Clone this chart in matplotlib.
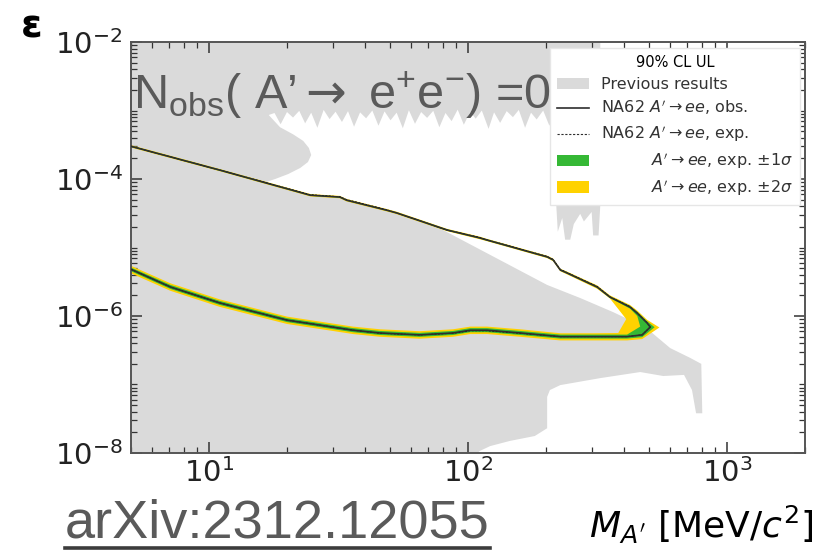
import matplotlib
matplotlib.use('Agg')
import matplotlib.pyplot as plt
from matplotlib.path import Path
from matplotlib.patches import PathPatch, Patch
from matplotlib.lines import Line2D
from matplotlib.ticker import LogLocator, NullFormatter

plt.rcParams['mathtext.rm'] = 'Liberation Sans'
plt.rcParams['mathtext.it'] = 'Liberation Sans:italic'
plt.rcParams['mathtext.bf'] = 'Liberation Sans:bold'
plt.rcParams['mathtext.sf'] = 'DejaVu Sans'
plt.rcParams['mathtext.fallback'] = 'stixsans'

# ---- previous results (excluded region), MeV / epsilon ----
edge_mass = [217, 206, 195, 184, 175, 166, 157, 149, 141, 133, 126, 120, 113, 107, 102, 96.3,
             91.2, 86.4, 81.8, 77.5, 73.4, 69.5, 65.9, 62.4, 59.1, 56.0, 53.0, 50.2, 47.6, 45.1,
             42.7, 40.4, 38.3, 36.3, 34.4, 32.6, 30.8, 29.2, 27.7, 26.2, 24.8, 23.5, 22.3, 21.1,
             20.0, 18.9, 17.9, 17.0]
edge_eps = [9.6e-4, 6.0e-4, 1.0e-3, 7.4e-4, 9.3e-4, 5.6e-4, 1.02e-3, 8.0e-4, 9.8e-4, 6.6e-4,
            9.4e-4, 5.4e-4, 1.0e-3, 7.6e-4, 9.6e-4, 6.2e-4, 1.03e-3, 7.0e-4, 9.2e-4, 5.7e-4,
            9.9e-4, 7.8e-4, 9.5e-4, 6.4e-4, 1.01e-3, 5.5e-4, 9.3e-4, 7.2e-4, 9.7e-4, 6.0e-4,
            1.0e-3, 7.7e-4, 9.4e-4, 5.8e-4, 9.8e-4, 6.8e-4, 9.6e-4, 7.5e-4, 1.02e-3, 5.6e-4,
            9.3e-4, 6.5e-4, 9.9e-4, 7.9e-4, 9.5e-4, 6.3e-4, 9.2e-4, 8.6e-4]
prev_mass = ([4.5, 324, 324,
              319, 304, 300, 280, 271, 256, 248, 237, 231, 222, 219]
             + edge_mass
             + [18.8, 21.1, 23.1, 24.3, 24.8, 24.1, 22.5, 20.2, 18.0, 16.4,
                24.6, 32, 34, 48.6, 53, 75,
                202, 271, 363, 422, 483, 514,
                603, 721, 795, 802, 759, 732, 682, 567, 462, 324, 227, 207, 202,
                202, 181, 145, 121.6, 111, 107, 107, 4.5])
prev_eps = ([2e-2, 2e-2, 4.2e-5,
             1.5e-5, 1.5e-5, 3.3e-5, 2.4e-5, 3.1e-5, 2.2e-5, 1.3e-5, 1.3e-5, 2.7e-5, 1.7e-5, 4.2e-5]
            + edge_eps
            + [5.7e-4, 4.5e-4, 3.6e-4, 2.84e-4, 2.24e-4, 1.77e-4, 1.45e-4, 1.18e-4, 1.0e-4, 8.9e-5,
               5.8e-5, 5.45e-5, 4.9e-5, 3.5e-5, 3.2e-5, 2.05e-5,
               2.84e-6, 1.83e-6, 1.14e-6, 8.7e-7, 6.7e-7, 5.65e-7,
               3.4e-7, 2.44e-7, 2.0e-7, 3.8e-8, 3.8e-8, 8.3e-8, 1.38e-7, 1.33e-7, 1.52e-7, 1.24e-7,
               9.8e-8, 8.3e-8, 6.6e-8,
               2.3e-8, 1.77e-8, 1.5e-8, 1.26e-8, 1.07e-8, 9.5e-9, 5e-9, 5e-9])

# ---- NA62 contour: upper branch ----
up_mass = [5, 11, 24.6, 32, 34, 48.6, 53, 83, 111, 118, 202, 213, 227, 241, 315, 353, 422, 450, 491]
obs_up = [3.0e-4, 1.35e-4, 5.8e-5, 5.45e-5, 4.9e-5, 3.5e-5, 3.2e-5, 1.8e-5, 1.38e-5, 1.29e-5,
          7.3e-6, 6.6e-6, 4.7e-6, 4.25e-6, 2.65e-6, 1.89e-6, 1.35e-6, 1.1e-6, 7.9e-7]
exp_up = [3.0e-4, 1.35e-4, 5.9e-5, 5.5e-5, 5.0e-5, 3.55e-5, 3.2e-5, 1.8e-5, 1.4e-5, 1.3e-5,
          7.4e-6, 6.7e-6, 4.8e-6, 4.3e-6, 2.7e-6, 1.9e-6, 1.37e-6, 1.1e-6, 8.0e-7]
up_p2 = [3.12e-4, 1.4e-4, 6.03e-5, 5.67e-5, 5.1e-5, 3.64e-5, 3.33e-5, 1.87e-5, 1.44e-5, 1.34e-5,
         7.6e-6, 6.9e-6, 4.9e-6, 4.45e-6, 2.8e-6, 2.0e-6, 1.45e-6, 1.2e-6, 8.8e-7]
up_p1 = [3.06e-4, 1.38e-4, 5.92e-5, 5.56e-5, 5.0e-5, 3.57e-5, 3.26e-5, 1.84e-5, 1.41e-5, 1.32e-5,
         7.45e-6, 6.75e-6, 4.8e-6, 4.35e-6, 2.72e-6, 1.94e-6, 1.4e-6, 1.15e-6, 8.4e-7]
up_m1 = [2.94e-4, 1.32e-4, 5.68e-5, 5.34e-5, 4.8e-5, 3.43e-5, 3.14e-5, 1.76e-5, 1.35e-5, 1.26e-5,
         7.15e-6, 6.45e-6, 4.6e-6, 4.15e-6, 2.58e-6, 1.83e-6, 1.28e-6, 1.0e-6]
up_m2 = [2.88e-4, 1.3e-4, 5.57e-5, 5.23e-5, 4.7e-5, 3.36e-5, 3.07e-5, 1.73e-5, 1.32e-5, 1.24e-5,
         7.0e-6, 6.3e-6, 4.5e-6, 4.05e-6, 2.5e-6, 1.8e-6]

# ---- NA62 contour: lower branch ----
lo_mass = [5, 7.1, 11, 20, 36, 45.7, 65, 87.5, 102, 118.5, 159, 227, 305, 380, 411, 470]
obs_lo = [4.8e-6, 2.65e-6, 1.55e-6, 8.7e-7, 6.2e-7, 5.65e-7, 5.3e-7, 5.65e-7, 6.2e-7, 6.2e-7,
          5.65e-7, 5.0e-7, 5.0e-7, 5.0e-7, 5.0e-7, 5.3e-7]
exp_lo = [4.8e-6, 2.65e-6, 1.55e-6, 8.7e-7, 6.2e-7, 5.6e-7, 5.3e-7, 5.6e-7, 6.1e-7, 6.1e-7,
          5.6e-7, 5.0e-7, 5.0e-7, 5.0e-7, 5.0e-7, 5.3e-7]
lo_p2 = [4.2e-6, 2.33e-6, 1.36e-6, 7.65e-7, 5.45e-7, 4.97e-7, 4.66e-7, 4.97e-7, 5.45e-7, 5.45e-7,
         4.97e-7, 4.4e-7, 4.4e-7, 4.4e-7, 4.4e-7, 4.6e-7]
lo_p1 = [4.5e-6, 2.48e-6, 1.45e-6, 8.15e-7, 5.8e-7, 5.28e-7, 4.96e-7, 5.28e-7, 5.8e-7, 5.8e-7,
         5.28e-7, 4.68e-7, 4.68e-7, 4.68e-7, 4.68e-7, 4.9e-7]
lo_m1 = [5.1e-6, 2.84e-6, 1.66e-6, 9.3e-7, 6.65e-7, 6.05e-7, 5.67e-7, 6.05e-7, 6.65e-7, 6.65e-7,
         6.05e-7, 5.35e-7, 5.35e-7, 5.35e-7, 5.35e-7]
lo_m2 = [5.4e-6, 3.0e-6, 1.75e-6, 9.8e-7, 7.0e-7, 6.4e-7, 6.0e-7, 6.4e-7, 7.0e-7, 7.0e-7,
         6.4e-7, 5.6e-7, 5.6e-7, 5.65e-7]

# tips of each contour (mass, eps)
tip_obs = (505, 6.9e-7)
tip_p2 = (548, 6.8e-7)
tip_p1 = (525, 6.85e-7)
tip_m1 = (462, 7.0e-7)
tip_m2 = (408, 9.0e-7)


def contour(up_e, tip, lo_e):
    m = up_mass[:len(up_e)] + [tip[0]] + lo_mass[:len(lo_e)][::-1]
    e = list(up_e) + [tip[1]] + list(lo_e)[::-1]
    return list(zip(m, e))


def ring(outer, inner):
    inner = inner[::-1]
    verts = outer + [outer[0]] + inner + [inner[0]]
    codes = ([Path.MOVETO] + [Path.LINETO] * (len(outer) - 1) + [Path.CLOSEPOLY] +
             [Path.MOVETO] + [Path.LINETO] * (len(inner) - 1) + [Path.CLOSEPOLY])
    return Path(verts, codes)


fig = plt.figure(figsize=(8.2, 5.55), dpi=100)
ax = fig.add_axes([0.1598, 0.1838, 0.8220, 0.7405])
ax.set_xscale('log')
ax.set_yscale('log')

gray = '#dadada'
green = '#35b835'
yellow = '#ffd200'

ax.fill(prev_mass, prev_eps, color=gray, lw=0, zorder=1)

out2 = contour(up_p2, tip_p2, lo_p2)
in2 = contour(up_m2, tip_m2, lo_m2)
out1 = contour(up_p1, tip_p1, lo_p1)
in1 = contour(up_m1, tip_m1, lo_m1)
ax.add_patch(PathPatch(ring(out2, in2), facecolor=yellow, edgecolor='none', zorder=2))
ax.add_patch(PathPatch(ring(out1, in1), facecolor=green, edgecolor='none', zorder=2.1))

exp_loop = contour(exp_up, tip_obs, exp_lo)
obs_loop = contour(obs_up, tip_obs, obs_lo)
ax.plot([p[0] for p in exp_loop], [p[1] for p in exp_loop], color='k', lw=0.7,
        ls=(0, (2, 1.5)), zorder=3)
ax.plot([p[0] for p in obs_loop], [p[1] for p in obs_loop], color='#2e2e2e', lw=1.2,
        zorder=3.1)

ax.set_xlim(5, 2000)
ax.set_ylim(1e-8, 1e-2)

ax.set_yticks([1e-8, 1e-6, 1e-4, 1e-2])
ax.yaxis.set_minor_locator(LogLocator(base=10, subs=range(1, 10), numticks=30))
ax.yaxis.set_minor_formatter(NullFormatter())
ax.xaxis.set_major_locator(LogLocator(base=10, numticks=10))
ax.xaxis.set_minor_locator(LogLocator(base=10, subs=range(2, 10), numticks=30))
ax.xaxis.set_minor_formatter(NullFormatter())
ax.tick_params(which='both', direction='in', top=True, right=True, colors='#333333',
               labelcolor='#222222', labelsize=21)
ax.tick_params(which='major', length=8, width=1.1)
ax.tick_params(which='minor', length=4, width=0.9)
ax.tick_params(axis='y', pad=6)
for s in ax.spines.values():
    s.set_color('#555555')
    s.set_linewidth(1.4)

ax.set_xlabel(r"$M_{A'}$ [MeV/$c^2$]", fontsize=26, loc='right')
ax.xaxis.set_label_coords(1.012, -0.175)
ax.xaxis.label.set_va('center')

handles = [Patch(facecolor=gray, edgecolor='none'),
           Line2D([], [], color='#2e2e2e', lw=1.2),
           Line2D([], [], color='#2e2e2e', lw=0.8, ls=(0, (2, 1.5))),
           Patch(facecolor=green, edgecolor='none'),
           Patch(facecolor=yellow, edgecolor='none')]
labels = ['Previous results',
          r"NA62 $A'\rightarrow ee$, obs.",
          r"NA62 $A'\rightarrow ee$, exp.",
          r"          $A'\rightarrow ee$, exp. $\pm1\sigma$",
          r"          $A'\rightarrow ee$, exp. $\pm2\sigma$"]
leg = ax.legend(handles, labels, title='90% CL UL', loc='upper right',
                bbox_to_anchor=(0.993, 0.985), borderaxespad=0, fontsize=11.5,
                title_fontsize=10.5, frameon=True, fancybox=False, framealpha=1,
                edgecolor='#e6e6e6', handlelength=2.0, labelspacing=0.4,
                handletextpad=0.8, borderpad=0.45)
leg.set_zorder(10)
for t in leg.get_texts():
    t.set_color('#333333')

# slide annotations
fig.text(0.162, 0.803, r"N$_{\mathrm{obs}}$( A’$\mathsf{\rightarrow}$ e$^{+}$e$^{-}$) =0",
         fontsize=35, color='#5a5a5a', family='Liberation Sans',
         math_fontfamily='custom', va='baseline', zorder=5)
fig.text(0.039, 0.953, 'ε', fontsize=28, fontweight='bold', ha='center', va='center')
arx = fig.text(0.079, 0.032, 'arXiv:2312.12055', fontsize=39, color='#5a5a5a',
               family='Liberation Sans', va='baseline')

fig.canvas.draw()
bb = arx.get_window_extent().transformed(fig.transFigure.inverted())
fig.add_artist(Line2D([bb.x0, bb.x1], [0.012, 0.012], color='#3c3c3c', lw=2.6,
                      transform=fig.transFigure))

fig.savefig('out.png', dpi=100)
